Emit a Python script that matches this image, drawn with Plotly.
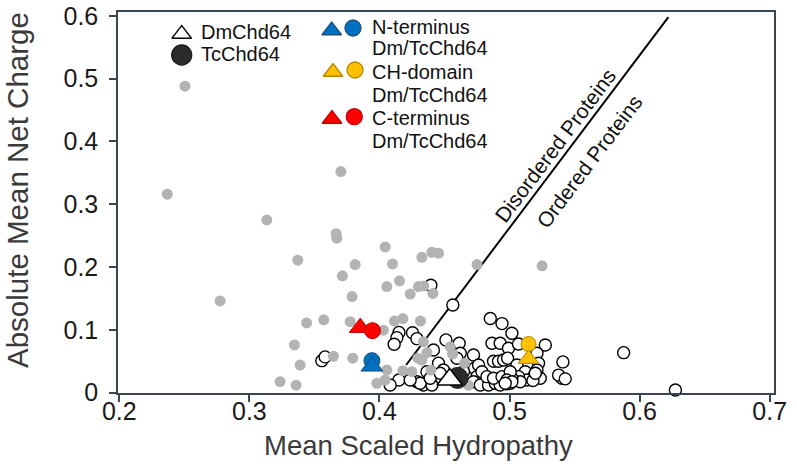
import plotly.graph_objects as go

# ---------------- data ----------------
# Reference protein set (grey) – mean scaled hydropathy / |mean net charge|
gray_hydropathy = [0.2505, 0.2369, 0.3134, 0.3372, 0.2775, 0.3346, 0.3390, 0.3236, 0.3359, 0.3703,
                   0.3667, 0.3672, 0.4044, 0.3813, 0.4100, 0.3715, 0.3790, 0.4057, 0.4154, 0.4236,
                   0.4300, 0.4340, 0.4411, 0.4326, 0.4403, 0.4454, 0.4750, 0.5250, 0.3440, 0.3572,
                   0.3775, 0.4030, 0.4115, 0.4180, 0.4315, 0.3646, 0.3795, 0.3980, 0.4044, 0.4057,
                   0.4180, 0.4249, 0.4338, 0.4295, 0.4326, 0.4365, 0.4395, 0.4544, 0.4562, 0.4654,
                   0.4685]
gray_charge = [0.488, 0.316, 0.275, 0.211, 0.146, 0.076, 0.044, 0.0175, 0.012, 0.352,
               0.253, 0.246, 0.232, 0.204, 0.205, 0.186, 0.153, 0.169, 0.178, 0.157,
               0.169, 0.170, 0.158, 0.2155, 0.2235, 0.222, 0.204, 0.202, 0.111, 0.116,
               0.113, 0.0995, 0.114, 0.118, 0.114, 0.058, 0.055, 0.015, 0.020, 0.036,
               0.035, 0.0334, 0.081, 0.055, 0.052, 0.0637, 0.036, 0.073, 0.0616, 0.047,
               0.012]

# Reference protein set (open circles)
open_hydropathy = [0.3557, 0.3582, 0.4395, 0.4564, 0.4150, 0.4134, 0.4113, 0.4254, 0.4288, 0.4149,
                   0.4082, 0.4288, 0.4338, 0.4403, 0.4415, 0.4454, 0.4511, 0.4613, 0.4723, 0.4731,
                   0.4492, 0.4646, 0.4762, 0.4749, 0.4723, 0.4775, 0.4838, 0.4890, 0.4928, 0.4980,
                   0.4788, 0.4826, 0.4877, 0.4865, 0.4928, 0.4992, 0.5069, 0.4852, 0.4942, 0.5018,
                   0.4877, 0.4915, 0.4954, 0.4985, 0.5275, 0.5410, 0.5403, 0.5377, 0.5428, 0.5877,
                   0.6275, 0.5211, 0.5223, 0.5057, 0.5121, 0.5185, 0.5236, 0.5134, 0.5180, 0.5069,
                   0.5082, 0.5211, 0.5198, 0.4942, 0.5018, 0.5005, 0.4365, 0.4313, 0.4236, 0.5005,
                   0.4980, 0.5018, 0.4967, 0.4621, 0.4595, 0.4390, 0.4467]
open_charge = [0.051, 0.057, 0.171, 0.1396, 0.096, 0.0876, 0.077, 0.0955, 0.086, 0.0202,
               0.0123, 0.0175, 0.0123, 0.0123, 0.068, 0.047, 0.084, 0.0786, 0.060, 0.039,
               0.036, 0.0334, 0.044, 0.0255, 0.0175, 0.0123, 0.0123, 0.015, 0.0123, 0.014,
               0.0334, 0.0255, 0.0229, 0.0786, 0.0786, 0.0707, 0.0775, 0.118, 0.110, 0.0945,
               0.050, 0.050, 0.052, 0.055, 0.076, 0.049, 0.023, 0.028, 0.022, 0.0637,
               0.0043, 0.0627, 0.0468, 0.044, 0.0334, 0.0255, 0.0229, 0.0202, 0.0195, 0.0255,
               0.0175, 0.036, 0.031, 0.0255, 0.0229, 0.015, 0.0334, 0.015, 0.0202, 0.0334,
               0.0202, 0.0175, 0.015, 0.0627, 0.0547, 0.023, 0.031]

# Chd64 proteins and domains: [DmChd64 (triangle), TcChd64 (circle)]
whole_hydropathy = [0.4540, 0.4600]
whole_charge = [0.0210, 0.0235]
nterm_hydropathy = [0.3942, 0.3942]
nterm_charge = [0.0420, 0.0510]
chdom_hydropathy = [0.5146, 0.5146]
chdom_charge = [0.0538, 0.0775]
cterm_hydropathy = [0.3852, 0.3946]
cterm_charge = [0.1035, 0.0987]

# Boundary between disordered and ordered proteins
boundary_hydropathy = [0.4205, 0.6221]
boundary_charge = [0.0441, 0.5980]

x_ticks = [0.2, 0.3, 0.4, 0.5, 0.6, 0.7]
y_ticks = [0, 0.1, 0.2, 0.3, 0.4, 0.5, 0.6]

x_title = "Mean Scaled Hydropathy"
y_title = "Absolute Mean Net Charge"
legend_labels = ["DmChd64", "TcChd64", "N-terminus", "Dm/TcChd64", "CH-domain",
                 "Dm/TcChd64", "C-terminus", "Dm/TcChd64"]
region_labels = ["Disordered Proteins", "Ordered Proteins"]

# ---------------- styling ----------------
FONT = "Liberation Sans, Arial, Helvetica, sans-serif"
AX = "#3a4550"
BLUE, BLUE_L = "#0070c0", "#1f4e79"
GOLD, GOLD_L = "#ffc000", "#b38600"
RED, RED_L = "#ff0000", "#c00000"
GREY = "#b3b3b3"

fig = go.Figure()

fig.add_trace(go.Scatter(x=boundary_hydropathy, y=boundary_charge, mode="lines",
                         line=dict(color="black", width=2), hoverinfo="skip"))

fig.add_trace(go.Scatter(x=open_hydropathy, y=open_charge, mode="markers", cliponaxis=False,
                         marker=dict(symbol="circle", size=12, color="white", opacity=1,
                                     line=dict(color="black", width=1.4))))

fig.add_trace(go.Scatter(x=gray_hydropathy, y=gray_charge, mode="markers", cliponaxis=False,
                         marker=dict(symbol="circle", size=11, color=GREY, opacity=1,
                                     line=dict(width=0))))

def pt(x, y, sym, size, fill, line_col, lw=1.0):
    fig.add_trace(go.Scatter(x=[x], y=[y], mode="markers", cliponaxis=False,
                             marker=dict(symbol=sym, size=size, color=fill, opacity=1,
                                         line=dict(color=line_col, width=lw))))

# circles behind triangles (except C-terminus)
pt(whole_hydropathy[1], whole_charge[1], "circle", 21, "#2b2b2b", "#1a1a1a")
pt(nterm_hydropathy[1], nterm_charge[1], "circle", 16, BLUE, BLUE_L)
pt(chdom_hydropathy[1], chdom_charge[1], "circle", 15, GOLD, GOLD_L)
pt(cterm_hydropathy[0], cterm_charge[0], "triangle-up", 19, RED, RED_L)
pt(whole_hydropathy[0], whole_charge[0], "triangle-up", 22, "white", "black", 1.6)
pt(nterm_hydropathy[0], nterm_charge[0], "triangle-up", 19, BLUE, BLUE_L)
pt(chdom_hydropathy[0], chdom_charge[0], "triangle-up", 18, GOLD, GOLD_L)
pt(cterm_hydropathy[1], cterm_charge[1], "circle", 16, RED, RED_L)

# ---------------- layout geometry (window pixels) ----------------
W, H = 797, 474
PL, PR, PT, PB = 118, 774, 12, 393   # plot area in window pixels


def px_x(px):   # window pixel -> paper fraction
    return (px - PL) / (PR - PL)


def px_y(py):
    return (PB - py) / (PB - PT)


# legend glyphs on a pixel-space overlay axis pair
leg_sym_x = [181.7, 181.7, 331.7, 353.0, 333.0, 355.0, 332.0, 354.3]
leg_sym_y = [34.0, 55.0, 30.5, 28.0, 72.0, 70.0, 119.0, 116.7]
leg_sym = ["triangle-up", "circle", "triangle-up", "circle", "triangle-up", "circle",
           "triangle-up", "circle"]
leg_fill = ["white", "#2b2b2b", BLUE, BLUE, GOLD, GOLD, RED, RED]
leg_line = ["black", "#1a1a1a", BLUE_L, BLUE_L, GOLD_L, GOLD_L, RED_L, RED_L]
leg_size = [17, 20, 17, 16, 17, 16, 17, 16]
fig.add_trace(go.Scatter(x=leg_sym_x, y=leg_sym_y, xaxis="x2", yaxis="y2", mode="markers",
                         cliponaxis=False,
                         marker=dict(symbol=leg_sym, size=leg_size, color=leg_fill, opacity=1,
                                     line=dict(color=leg_line, width=1.3))))

leg_text_x = [199, 199, 370, 370, 370, 370, 370, 370]
leg_text_y = [32.5, 54.5, 27.0, 48.5, 72.0, 95.0, 117.5, 141.0]
annotations = []
for t, x, y in zip(legend_labels, leg_text_x, leg_text_y):
    annotations.append(dict(text=t, x=px_x(x), y=px_y(y), xref="paper", yref="paper",
                            showarrow=False, xanchor="left", yanchor="middle",
                            font=dict(family=FONT, size=20, color="#111111")))

for t, x, y in zip(region_labels, [555, 589], [145, 161]):
    annotations.append(dict(text=t, x=px_x(x), y=px_y(y), xref="paper", yref="paper",
                            showarrow=False, textangle=-53, xanchor="center", yanchor="middle",
                            font=dict(family=FONT, size=21, color="#111111")))

# axis titles
annotations.append(dict(text=x_title, x=px_x(418), y=px_y(446), xref="paper", yref="paper",
                        showarrow=False, xanchor="center", yanchor="middle",
                        font=dict(family=FONT, size=27.5, color="#3a3a3a")))
annotations.append(dict(text=y_title, x=px_x(17), y=px_y(190), xref="paper", yref="paper",
                        showarrow=False, textangle=-90, xanchor="center", yanchor="middle",
                        font=dict(family=FONT, size=29.5, color="#3a3a3a")))

fig.update_layout(
    width=W, height=H, autosize=False,
    margin=dict(l=PL, r=W - PR, t=PT, b=H - PB, pad=0, autoexpand=False),
    paper_bgcolor="white", plot_bgcolor="white",
    showlegend=False,
    font=dict(family=FONT, color="#111111"),
    annotations=annotations,
    xaxis=dict(range=[0.199, 0.7033], tickvals=x_ticks, ticktext=[f"{v:g}" for v in x_ticks],
               automargin=False, ticklabelstandoff=-12, ticklabeloverflow="allow",
               showgrid=False, zeroline=False, showline=True, linecolor=AX, linewidth=1.5,
               mirror=True, ticks="outside", ticklen=7, tickwidth=1.5, tickcolor=AX,
               tickfont=dict(family=FONT, size=25, color="#1a1a1a")),
    yaxis=dict(range=[-0.0005, 0.606], tickvals=y_ticks, ticktext=[f"{v:g}" for v in y_ticks],
               automargin=False, ticklabelstandoff=6, ticklabeloverflow="allow",
               showgrid=False, zeroline=False, showline=True, linecolor=AX, linewidth=1.5,
               mirror=True, ticks="outside", ticklen=7, tickwidth=1.5, tickcolor=AX,
               tickfont=dict(family=FONT, size=25, color="#1a1a1a")),
    xaxis2=dict(overlaying="x", anchor="y2", range=[PL, PR], visible=False, fixedrange=True),
    yaxis2=dict(overlaying="y", anchor="x2", range=[PB, PT], visible=False, fixedrange=True),
)

fig.write_html("out.html", config={"displayModeBar": False},
               post_script="document.body.style.margin='0';document.body.style.overflow='hidden';")
